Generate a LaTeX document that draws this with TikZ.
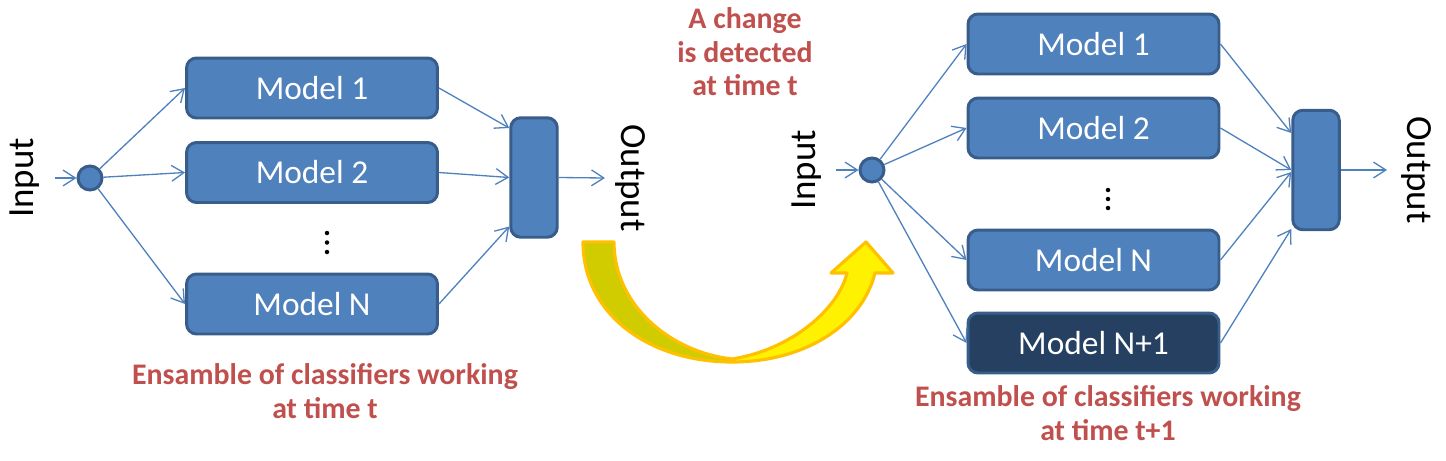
\documentclass[tikz,border=0pt]{standalone}
\usepackage{fontspec}
\setmainfont{Carlito}
\usetikzlibrary{arrows.meta,calc}
\definecolor{boxfill}{HTML}{4F81BD}
\definecolor{boxline}{HTML}{385D8A}
\definecolor{darkfill}{HTML}{254061}
\definecolor{captext}{HTML}{C0504D}
\definecolor{olivefill}{HTML}{D1CC00}
\definecolor{arrowline}{HTML}{FFC000}
\newcommand\bendarrowpath{(583,242) -- (614,242) .. controls (614,305) and (670,352) .. (732,359) .. controls (790,350) and (838,310) .. (847,273) -- (831,273) -- (866,242) -- (893,273) -- (875,273) .. controls (862,325) and (805,362) .. (732,362) .. controls (650,362) and (583,315) .. (583,242) -- cycle}
\begin{document}
\begin{tikzpicture}[x=0.02cm,y=-0.02cm,
  model/.style={draw=boxline, fill=boxfill, line width=1.7pt, rounded corners=0.2cm,
    minimum width=5.02cm, minimum height=1.2cm, text=white,
    font=\fontsize{19}{22}\selectfont, inner sep=0pt},
  newmodel/.style={model, fill=darkfill},
  comb/.style={draw=boxline, fill=boxfill, line width=1.7pt, rounded corners=0.2cm,
    minimum width=0.93cm, minimum height=2.39cm, inner sep=0pt},
  hub/.style={circle, draw=boxline, fill=boxfill, line width=1.7pt,
    minimum size=0.48cm, inner sep=0pt},
  conn/.style={draw=boxfill, line width=0.75pt, -{Straight Barb[length=7pt,width=9pt]}},
  iolabel/.style={font=\fontsize{21}{24}\selectfont, inner sep=0pt},
  caption/.style={text=captext, font=\bfseries\fontsize{17}{19}\selectfont, align=center, inner sep=0pt},
]
\useasboundingbox (0,0) rectangle (1446,460);

% ---------- left ensemble ----------
\node[iolabel, rotate=90] (inlabL) at (25,178) {Input};
\coordinate (inStartL) at (55,178);
\node[hub] (hubL) at (90,178) {};
\node[model] (m1L) at (312,88) {Model 1};
\node[model] (m2L) at (312,172.5) {Model 2};
\node[model] (mNL) at (312,304) {Model N};
\node[comb] (cL) at (534,177.5) {};
\coordinate (outEndL) at (605,178);
\node[iolabel, rotate=-90] (outlabL) at (630,178) {Output};
\foreach \yy in {233,242.5,252} \fill (327,\yy) circle[radius=0.045cm];

\draw[conn] (inStartL) -- (hubL);
\draw[conn] (hubL) -- (m1L.west);
\draw[conn] (hubL) -- (m2L.west);
\draw[conn] (hubL) -- (mNL.west);
\draw[conn] (m1L.east) -- ([yshift=0.99cm]cL.west);
\draw[conn] (m2L.east) -- (cL.west);
\draw[conn] (mNL.east) -- ([yshift=-0.98cm]cL.west);
\draw[conn] (cL.east) -- (outEndL);

\node[caption] (capL) at (325,391) {Ensamble of classifiers working\\at time t};

% ---------- change label and bent arrow ----------
\node[caption] (change) at (745,52) {A change\\is detected\\at time t};
\fill[yellow] \bendarrowpath;
\begin{scope}
  \clip (560,230) rectangle (733,370);
  \fill[olivefill] \bendarrowpath;
\end{scope}
\draw[arrowline, line width=1.8pt, line join=round] \bendarrowpath;

% ---------- right ensemble ----------
\node[iolabel, rotate=90] (inlabR) at (807,170) {Input};
\coordinate (inStartR) at (836,170);
\node[hub] (hubR) at (872,170) {};
\node[model] (m1R) at (1093.5,44) {Model 1};
\node[model] (m2R) at (1093.5,128) {Model 2};
\node[model] (mNR) at (1093.5,260) {Model N};
\node[newmodel] (mN1R) at (1093.5,343) {Model N+1};
\node[comb] (cR) at (1316,170) {};
\coordinate (outEndR) at (1387,170);
\node[iolabel, rotate=-90] (outlabR) at (1416,170) {Output};
\foreach \yy in {190,199,208} \fill (1108,\yy) circle[radius=0.045cm];

\draw[conn] (inStartR) -- (hubR);
\draw[conn] (hubR) -- (m1R.west);
\draw[conn] (hubR) -- (m2R.west);
\draw[conn] (hubR) -- (mNR.west);
\draw[conn] (hubR) -- (mN1R.west);
\draw[conn] (m1R.east) -- ([yshift=0.74cm]cR.west);
\draw[conn] (m2R.east) -- (cR.west);
\draw[conn] (mNR.east) -- ([yshift=-0.04cm]cR.west);
\draw[conn] (mN1R.east) -- ([yshift=-1.18cm]cR.west);
\draw[conn] (cR.east) -- (outEndR);

\node[caption] (capR) at (1108,413) {Ensamble of classifiers working\\at time t+1};
\end{tikzpicture}
\end{document}
